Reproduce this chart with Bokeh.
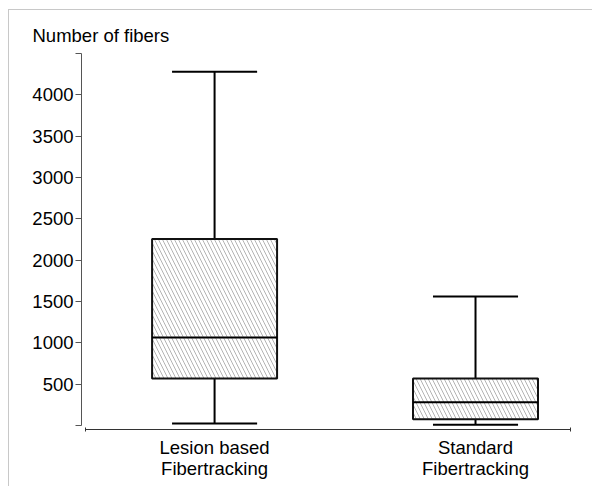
from bokeh.plotting import figure
from bokeh.models import FixedTicker, Range1d
from bokeh.embed import file_html
from bokeh.resources import INLINE

categories = ["Lesion based\nFibertracking", "Standard\nFibertracking"]
whisker_low = [25, 10]
q1 = [570, 75]
median = [1065, 280]
q3 = [2255, 570]
whisker_high = [4280, 1560]
y_ticks = [0, 500, 1000, 1500, 2000, 2500, 3000, 3500, 4000, 4500]

xs = [i + 1 for i in range(len(categories))]
box_w = 0.479
cap_w = 0.326

p = figure(width=584, height=477, output_backend="svg", toolbar_location=None,
           x_range=Range1d(0.490, 2.364), y_range=Range1d(-48.4, 4500),
           min_border_left=72, min_border_right=23, min_border_top=43, min_border_bottom=58)
p.styles = {"margin-left": "8px", "margin-top": "9px",
            "border-left": "1px solid #c8c8c8", "border-top": "1px solid #c8c8c8"}
p.outline_line_color = None
p.xgrid.visible = False
p.ygrid.visible = False
p.background_fill_color = "white"
p.border_fill_color = "white"

p.title.text = "Number of fibers"
p.title.text_font = "Liberation Sans"
p.title.text_font_size = "18.5px"
p.title.text_font_style = "normal"
p.title.text_color = "black"
p.title.align = "left"
p.title.offset = -49
p.title.standoff = 15

# whiskers
p.segment(x0=xs, x1=xs, y0=q3, y1=whisker_high, line_color="black", line_width=2)
p.segment(x0=xs, x1=xs, y0=whisker_low, y1=q1, line_color="black", line_width=2)
p.segment(x0=[x - cap_w / 2 for x in xs], x1=[x + cap_w / 2 for x in xs],
          y0=whisker_high, y1=whisker_high, line_color="black", line_width=2)
p.segment(x0=[x - cap_w / 2 for x in xs], x1=[x + cap_w / 2 for x in xs],
          y0=whisker_low, y1=whisker_low, line_color="black", line_width=2)
# boxes
p.vbar(x=xs, width=box_w, bottom=q1, top=q3, fill_color="white",
       hatch_pattern="\\", hatch_color="#b4b4b4", hatch_scale=8, hatch_weight=1,
       line_color="#111111", line_width=2)
p.segment(x0=[x - box_w / 2 for x in xs], x1=[x + box_w / 2 for x in xs],
          y0=median, y1=median, line_color="black", line_width=2)

# y axis
ya = p.yaxis[0]
ya.ticker = FixedTicker(ticks=y_ticks)
ya.bounds = (y_ticks[0], y_ticks[-1])
ya.major_label_overrides = {y_ticks[0]: "", y_ticks[-1]: ""}
ya.axis_line_color = "#555555"
ya.major_tick_line_color = "#555555"
ya.major_tick_in = 0
ya.major_tick_out = 6
ya.minor_tick_line_color = None
ya.major_label_text_font = "Liberation Sans"
ya.major_label_text_font_size = "18.5px"
ya.major_label_text_color = "black"
ya.major_label_standoff = 2

# x axis
xa = p.xaxis[0]
x_lo, x_hi = 0.506, 2.364
xa.ticker = FixedTicker(ticks=xs, minor_ticks=[x_lo, x_hi])
xa.bounds = (x_lo, x_hi)
xa.major_label_overrides = {x: c for x, c in zip(xs, categories)}
xa.axis_line_color = "#333333"
xa.major_tick_line_color = None
xa.minor_tick_line_color = "#333333"
xa.minor_tick_in = 2
xa.minor_tick_out = 2
xa.major_label_text_font = "Liberation Sans"
xa.major_label_text_font_size = "18.5px"
xa.major_label_text_color = "black"
xa.major_label_text_line_height = 1.0
xa.major_label_standoff = 1

open("out.html", "w").write(file_html(p, INLINE))
